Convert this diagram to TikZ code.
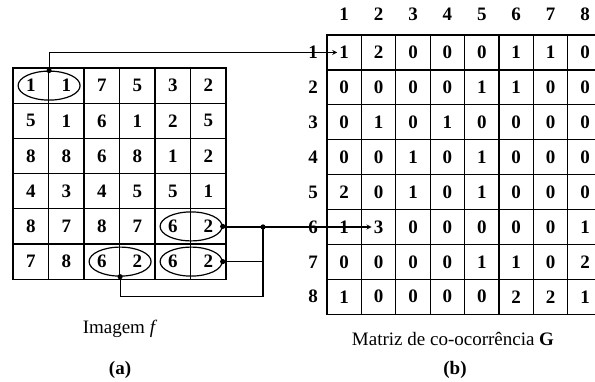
\documentclass[tikz,border=0pt]{standalone}
\usepackage{fontspec}
\setmainfont{Liberation Serif}
\usetikzlibrary{shapes.geometric}

\newcommand{\grade}{\fontsize{19}{22}\selectfont}

\tikzset{
  fcell/.style={draw, line width=1.2pt, minimum width=35.5pt, minimum height=35.2pt,
    inner sep=0pt, font=\grade\bfseries},
  gcell/.style={draw, line width=1.2pt, minimum width=34.4pt, minimum height=34.9pt,
    inner sep=0pt, font=\grade\bfseries},
  rotulo/.style={inner sep=0pt, font=\grade\bfseries},
  par/.style={ellipse, draw, line width=1.2pt, minimum width=62pt, minimum height=29pt,
    inner sep=0pt},
  liga/.style={line width=1.2pt}
}

\begin{document}
\begin{tikzpicture}[x=1pt, y=-1pt, >=stealth, font=\grade]
        \useasboundingbox (0,0) rectangle (595,381);

        % Imagem f (6x6)
        \foreach \linha [count=\i] in {{1,1,7,5,3,2},{5,1,6,1,2,5},{8,8,6,8,1,2},
                                       {4,3,4,5,5,1},{8,7,8,7,6,2},{7,8,6,2,6,2}}
        \foreach \v [count=\j] in \linha
        \node[fcell] (f-\i-\j) at ({13+35.5*(\j-0.5)},{68+35.2*(\i-0.5)}) {\v};

        % Matriz G (8x8)
        \foreach \linha [count=\i] in {{1,2,0,0,0,1,1,0},{0,0,0,0,1,1,0,0},
                                       {0,1,0,1,0,0,0,0},{0,0,1,0,1,0,0,0},
                                       {2,0,1,0,1,0,0,0},{1,3,0,0,0,0,0,1},
                                       {0,0,0,0,1,1,0,2},{1,0,0,0,0,2,2,1}}
        \foreach \v [count=\j] in \linha
        \node[gcell] (g-\i-\j) at ({327+34.4*(\j-0.5)},{35+34.9*(\i-0.5)}) {\v};

        % indices de linha e coluna
        \foreach \k in {1,...,8} {
          \node[rotulo] (gc-\k) at (g-1-\k |- 0,14) {\k};
          \node[rotulo] (gr-\k) at (313,0 |- g-\k-1) {\k};
        }

        % pares de pixels
        \node[par] (pA) at (f-1-1.east) {};
        \node[par] (pB) at (f-5-5.east) {};
        \node[par] (pC) at (f-6-3.east) {};
        \node[par] (pD) at (f-6-5.east) {};

        \coordinate (t1) at ([xshift=-7pt]g-1-1.center);
        \coordinate (t6) at ([xshift=-7pt]g-6-2.center);
        \coordinate (jn) at (263,0 |- t6);

        % ligacoes
        \draw[liga,->] (pA.north) |- (t1);
        \draw[liga,->] (pB.east |- t6) -- (t6);
        \draw[liga] (pD.east) -| (jn);
        \draw[liga] (pC.south) -- ++(0,20) -| (jn);

        \foreach \p in {pA.north, pB.east, pC.south, pD.east, jn}
        \fill (\p) circle (2.6pt);

        % legendas
        \node (legA) at (120,329) {Imagem \textit{f}};
        \node[font=\grade\bfseries] (subA) at (120,370) {(a)};
        \node (legB) at (453,339) {Matriz de co-ocorrência \textbf{G}};
        \node[font=\grade\bfseries] (subB) at (455,370) {(b)};
    \end{tikzpicture}
\end{document}
